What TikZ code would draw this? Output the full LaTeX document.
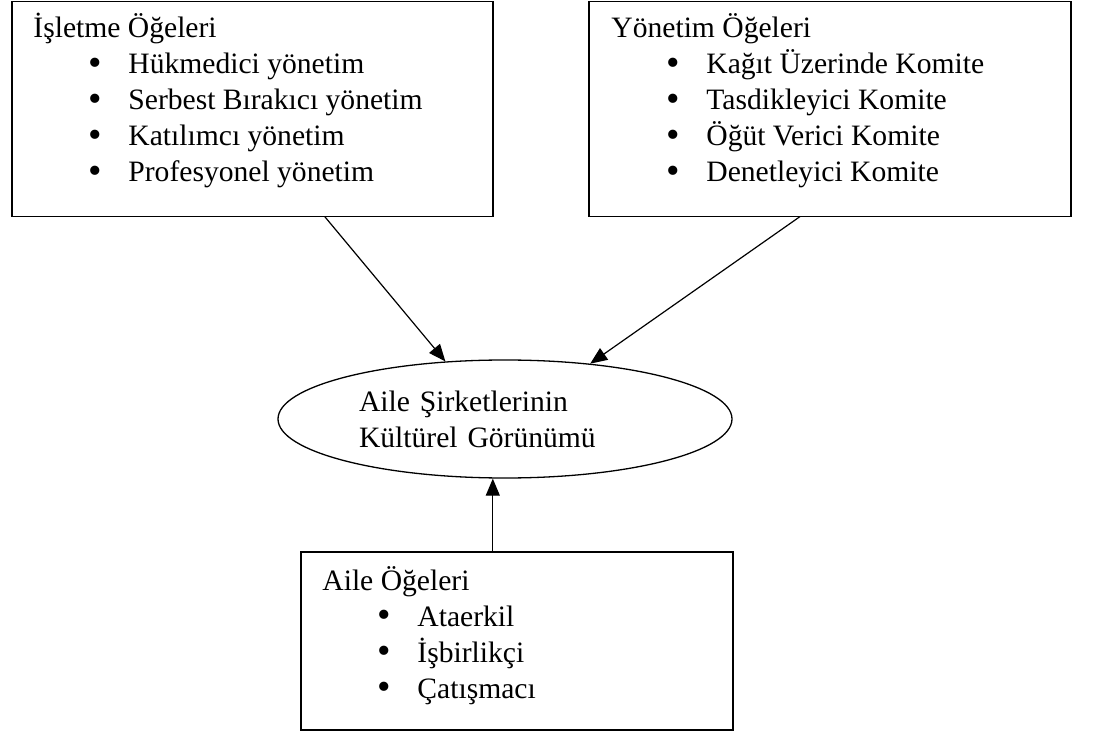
\documentclass[tikz,border=0pt]{standalone}
\usepackage{fontspec}
\setmainfont{Liberation Serif}
\usetikzlibrary{shapes,arrows.meta,positioning,calc}

\tikzset{
  box/.style={rectangle, draw, line width=0.8pt, anchor=north west, inner sep=0pt, outer sep=0pt},
  list/.style={anchor=base west, inner sep=0pt},
  arr/.style={-{Triangle[length=8.5pt,width=7pt]}, line width=0.6pt},
}
\newcommand{\itm}[1]{\hspace*{27.5pt}\makebox[20pt][l]{\raisebox{-0.6pt}{\scalebox{1.3}{\textbullet}}}#1}

\begin{document}
\begin{tikzpicture}[x=0.5pt, y=-0.5pt, font=\fontsize{14.8}{18}\selectfont]
    \useasboundingbox (0,0) rectangle (1096,731);
    % the three boxes
    \node (isletme) [box, minimum width=240.5pt, minimum height=107.5pt] at (12,1.5) {};
    \node (yonetim) [box, minimum width=241pt, minimum height=107.5pt] at (589,1.5) {};
    \node (aile) [box, minimum width=216pt, minimum height=89pt] at (301,552) {};
    % their lists
    \node (isletmetxt) [list] at (33,38) {\begin{tabular}[t]{@{}l@{}}İşletme Öğeleri\\ \itm{Hükmedici yönetim}\\ \itm{Serbest Bırakıcı yönetim}\\ \itm{Katılımcı yönetim}\\ \itm{Profesyonel yönetim}\end{tabular}};
    \node (yonetimtxt) [list] at (611,38) {\begin{tabular}[t]{@{}l@{}}Yönetim Öğeleri\\ \itm{Kağıt Üzerinde Komite}\\ \itm{Tasdikleyici Komite}\\ \itm{Öğüt Verici Komite}\\ \itm{Denetleyici Komite}\end{tabular}};
    \node (ailetxt) [list] at (322,590) {\begin{tabular}[t]{@{}l@{}}Aile Öğeleri\\ \itm{Ataerkil}\\ \itm{İşbirlikçi}\\ \itm{Çatışmacı}\end{tabular}};
    % centre
    \node (gorunum) [ellipse, draw, line width=0.65pt, minimum width=227pt, minimum height=59pt, text width=146pt, align=left, inner sep=0pt] at (505,419) {Aile Şirketlerinin\\Kültürel Görünümü};
    % arrows
    \draw[arr] ($(isletme.south west)!0.65!(isletme.south east)$) -- (gorunum.136);
    \draw[arr] ($(yonetim.south west)!0.438!(yonetim.south east)$) -- (gorunum.33);
    \draw[arr] ($(aile.north west)!0.444!(aile.north east)$) coordinate (ailetop) -- (ailetop |- gorunum.south);
\end{tikzpicture}
\end{document}
